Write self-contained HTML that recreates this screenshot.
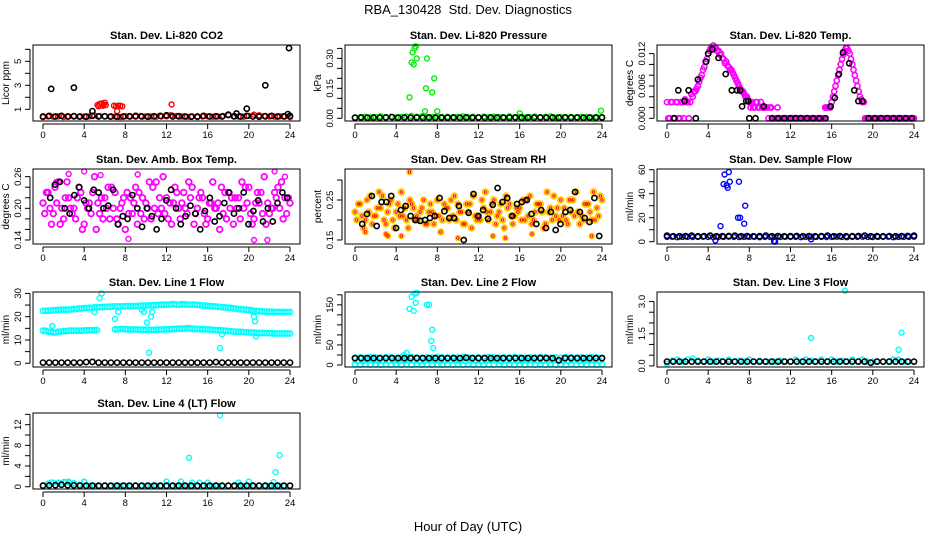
<!DOCTYPE html>
<html><head><meta charset="utf-8"><style>
html,body{margin:0;padding:0;background:#fff;}
svg{display:block;font-family:"Liberation Sans",sans-serif;}
</style></head><body>
<svg id="chart" width="936" height="540" viewBox="0 0 936 540" xmlns="http://www.w3.org/2000/svg">
<text x="468" y="14" text-anchor="middle" font-size="13">RBA_130428&#160; Std. Dev. Diagnostics</text>
<text x="468" y="531" text-anchor="middle" font-size="13">Hour of Day (UTC)</text>
</svg>
<script>
// ---- shared x ticks ----
const xTicks = [0,4,8,12,16,20,24];

// ---- P1 CO2 ----
const co2Ticks = [1,2,3,4,5,6];
const co2Labels = ["1","","3","","5",""];
const co2RedBase = [0.35,0.4,0.38,0.42,0.36,0.4,0.45,0.38,0.4,0.42,0.5,0.45,0.42,0.38,0.4,0.36,0.42,0.4,0.38,0.45,0.42,0.4,0.38,0.4,0.42,0.5,0.45,0.4,0.38,0.4,0.36,0.4,0.42,0.38,0.4,0.45,0.5,0.42,0.4,0.38,0.45,0.55,0.5,0.45,0.4,0.38,0.42,0.4,0.35];
const co2RedHours = [5.3,5.5,5.7,5.9,6.1,5.4,5.8,6.0,6.9,7.1,7.3,7.5,7.7,7.2,12.5,12.4];
const co2RedVals = [1.35,1.45,1.5,1.4,1.35,1.25,1.3,1.55,1.3,1.25,1.3,1.3,1.25,0.85,1.4,0.5];
const co2BlackBase = [0.4,0.45,0.4,0.45,0.4,0.42,0.4,0.38,0.45,0.4,0.42,0.4,0.38,0.4,0.42,0.45,0.4,0.38,0.42,0.45,0.5,0.4,0.42,0.4,0.38,0.4,0.45,0.4,0.42,0.4,0.55,0.42,0.4,0.45,0.4,0.38,0.42,0.45,0.4,0.42,0.45];
const co2BlackHours = [0.8,3.0,4.8,19.8,21.6,23.9,23.8,18.8];
const co2BlackVals = [2.7,2.8,0.85,1.05,3.0,6.1,0.6,0.65];

// ---- P2 Pressure ----
const presTicks = [0,0.05,0.1,0.15,0.2,0.25,0.3,0.35];
const presLabels = ["0.00","","","0.15","","","0.30",""];
const presGreenBase = [0.004,0.006,0.008,0.005,0.007,0.01,0.006,0.008,0.005,0.007,0.009,0.012,0.008,0.01,0.006,0.007,0.009,0.005,0.008,0.006,0.007,0.01,0.006,0.008,0.005,0.009,0.006,0.008,0.007,0.005,0.01,0.006,0.008,0.005,0.007,0.009,0.006,0.008,0.01,0.005,0.007,0.006,0.008,0.005,0.007,0.006,0.005,0.007,0.006];
const presGreenHours = [5.3,5.5,5.6,5.7,5.8,5.9,6.0,7.0,6.9,7.5,7.7,6.8,8.0,16.0,23.9];
const presGreenVals = [0.105,0.28,0.33,0.27,0.35,0.36,0.3,0.3,0.15,0.13,0.2,0.035,0.035,0.025,0.038];
const presBlackBase = [0.003,0.004,0.003,0.004,0.003,0.004,0.006,0.003,0.004,0.003,0.004,0.003,0.004,0.003,0.004,0.003,0.004,0.003,0.004,0.003,0.004,0.003,0.004,0.003,0.004,0.003,0.004,0.003,0.004,0.003,0.004,0.003,0.004,0.003,0.004,0.003,0.004,0.003,0.004,0.003,0.004];

// ---- P3 Temp ----
const tempTicks = [0,0.002,0.004,0.006,0.008,0.01,0.012];
const tempLabels = ["0.000","","","0.006","","","0.012"];
const tempMag1 = [0.003,0,0.003,0,0.003,0,0.003,0.0035,0.003,0.003,0.004,
 0.005,0.006,0.0075,0.009,0.0105,0.012,0.013,0.0135,
 0.013,0.0125,0.012,0.011,0.0105,0.0095,0.009,0.008,0.007,0.006,0.005,0.0045,0.004,0.003,
 0.003,0.002,0.003,0.002,0.002,0.002,0.002,0.002,
 0,0,0.002,0,0,0,0,0,0,0,0,0,0,0,0,0,0,0,0,0,0,0.002,
 0.002,0.003,0.005,0.007,0.009,0.011,0.0125,
 0.013,0.012,0.01,0.008,0.006,0.004,0.003,
 0,0,0,0,0,0,0,0,0,0,0,0,0,0,0,0,0,0,0,0];
const tempMag2 = [0,0.003,0,0.003,0,0.003,0,0.003,0,0.0045,0.005,
 0.0055,0.0068,0.008,0.0095,0.011,0.0125,0.0128,0.013,
 0.0125,0.0118,0.0112,0.0102,0.0098,0.009,0.0085,0.0075,0.0065,0.0055,0.005,0.004,0.0035,0.002,
 0.002,0.003,0.002,0.003,0.002,0.002,0,0.002,
 0,0,0,0,0,0,0,0,0,0,0,0,0,0,0,0,0,0,0,0,0.002,0.002,
 0.002,0.004,0.006,0.008,0.01,0.0118,0.013,
 0.0125,0.011,0.009,0.007,0.005,0.0035,0.003,
 0,0,0,0,0,0,0,0,0,0,0,0,0,0,0,0,0,0,0,0];
const tempBlackHours = [0.7,1.1,1.7,2.1,2.8,3.0,3.8,4.0,4.4,5.0,5.7,6.3,6.8,7.1,7.3,7.7,7.9,8.0,8.6,9.4,10.2,10.8,11.4,12.0,12.5,13.0,13.6,14.2,14.8,15.4,15.9,16.3,16.7,17.1,17.7,18.2,18.6,19.0,19.6,20.2,20.8,21.4,22.0,22.6,23.2,23.8];
const tempBlackVals = [0,0.0052,0.0032,0.0052,0,0.0072,0.0105,0.012,0.0128,0.0112,0.0082,0.0052,0.0052,0.0052,0.0022,0.0032,0.0032,0,0,0.0022,0,0,0,0,0,0,0,0,0,0,0.0022,0.0038,0.0082,0.0122,0.0102,0.0052,0.0032,0.0032,0,0,0,0,0,0,0,0];

// ---- P4 Amb box temp ----
const ambTicks = [0.14,0.16,0.18,0.2,0.22,0.24,0.26];
const ambLabels = ["0.14","","","0.20","","","0.26"];
const ambMag1 = [0.21,0.23,0.19,0.25,0.18,0.22,0.2,0.24,0.17,0.21,0.26,0.19,0.22,0.18,0.23,0.2,0.16,0.22,0.24,0.19,0.21,0.18,0.25,0.2,0.22,0.17,0.23,0.21,0.19,0.24,0.2,0.22,0.18,0.25,0.21,0.19,0.23,0.17,0.22,0.2,0.24,0.18,0.21,0.26,0.19,0.23,0.2,0.22,0.21];
const ambMag2 = [0.19,0.2,0.24,0.17,0.22,0.2,0.18,0.23,0.21,0.19,0.16,0.22,0.2,0.24,0.18,0.21,0.23,0.19,0.17,0.22,0.2,0.24,0.19,0.26,0.18,0.21,0.2,0.23,0.25,0.17,0.22,0.19,0.21,0.2,0.16,0.23,0.2,0.22,0.18,0.24,0.19,0.21,0.23,0.17,0.2,0.22,0.25,0.19,0.24];
const ambMag3 = [0.23,0.17,0.21,0.2,0.25,0.19,0.22,0.16,0.2,0.23,0.21,0.18,0.24,0.2,0.17,0.22,0.19,0.21,0.23,0.18,0.25,0.2,0.22,0.19,0.21,0.24,0.18,0.2,0.22,0.19,0.23,0.17,0.21,0.2,0.24,0.18,0.22,0.2,0.25,0.21,0.17,0.23,0.19,0.21,0.2,0.24,0.18,0.22,0.2];
const ambMagHours = [4.0,5.6,9.2,2.5,20.5,21.8,23.5,8.3,1.3,22.5];
const ambMagVals = [0.27,0.263,0.264,0.265,0.14,0.14,0.26,0.142,0.25,0.27];
const ambBlack = [0.22,0.245,0.25,0.2,0.19,0.225,0.24,0.215,0.2,0.235,0.23,0.2,0.205,0.235,0.17,0.185,0.18,0.225,0.2,0.165,0.2,0.185,0.16,0.18,0.215,0.235,0.2,0.17,0.185,0.205,0.19,0.16,0.195,0.22,0.175,0.185,0.21,0.23,0.19,0.2,0.23,0.17,0.195,0.215,0.175,0.2,0.175,0.21,0.23,0.22];

// ---- P5 Gas stream RH ----
const rhTicks = [0.15,0.2,0.25,0.3];
const rhLabels = ["0.15","","0.25",""];
const rh1 = [0.22,0.24,0.2,0.26,0.21,0.23,0.19,0.25,0.22,0.27,0.2,0.24,0.21,0.23,0.19,0.22,0.25,0.2,0.23,0.21,0.24,0.19,0.22,0.26,0.21,0.23,0.2,0.25,0.22,0.18,0.24,0.21,0.23,0.2,0.26,0.22,0.24,0.19,0.23,0.21,0.25,0.2,0.22,0.27,0.21,0.24,0.2,0.23,0.25];
const rh2 = [0.2,0.21,0.25,0.19,0.23,0.26,0.22,0.2,0.24,0.21,0.18,0.23,0.2,0.25,0.22,0.19,0.21,0.24,0.2,0.26,0.22,0.19,0.24,0.21,0.2,0.27,0.22,0.19,0.24,0.26,0.21,0.23,0.2,0.25,0.19,0.24,0.22,0.27,0.2,0.23,0.21,0.19,0.25,0.22,0.2,0.24,0.27,0.21,0.22];
const rh3 = [0.24,0.18,0.22,0.21,0.27,0.2,0.24,0.18,0.21,0.23,0.25,0.2,0.22,0.19,0.24,0.21,0.17,0.23,0.25,0.2,0.22,0.24,0.18,0.2,0.25,0.22,0.24,0.21,0.2,0.23,0.19,0.22,0.25,0.21,0.2,0.24,0.18,0.22,0.26,0.2,0.23,0.25,0.21,0.19,0.24,0.22,0.2,0.26,0.24];
const rhOutHours = [5.3,3.0,3.2,4.5,10.0,14.6,13.4,17.2,23.0,1.0];
const rhOutVals = [0.32,0.165,0.16,0.16,0.155,0.155,0.16,0.165,0.16,0.17];
const rhBlack = [0.19,0.215,0.26,0.185,0.245,0.245,0.26,0.18,0.225,0.235,0.21,0.2,0.198,0.2,0.205,0.21,0.255,0.222,0.205,0.205,0.235,0.15,0.218,0.265,0.21,0.225,0.203,0.238,0.28,0.245,0.255,0.21,0.24,0.245,0.25,0.215,0.19,0.225,0.18,0.22,0.175,0.19,0.22,0.225,0.27,0.22,0.205,0.195,0.255,0.16];

// ---- P6 Sample flow ----
const sfTicks = [0,10,20,30,40,50,60];
const sfLabels = ["0","","20","","40","","60"];
const sfBlueBase = [4,4.2,3.8,4,4.1,3.9,4,4.2,4,3.8,4.1,4,4.2,4,3.9,4.1,4,4.2,3.8,4,4.1,4,3.9,4.2,4,4.1,3.8,4,4.2,4,4.1,3.9,4,4.2,4,3.8,4.1,4,4.2,4,3.9,4.1,4,4.2,3.8,4,4.1,4,4.2];
const sfBlueHours = [5.2,5.5,5.6,5.8,5.9,6.0,6.1,7.0,7.1,6.9,7.5,7.6,4.7,10.4,10.5,14.0];
const sfBlueVals = [13,48,56,47,45,58,50,50,20,20,15,30,1,0.5,0,2];
const sfBlack = [5,4.5,4.5,4.6,5,4.5,4.6,5,4.5,4.6,4.8,5,4.5,4.6,4.5,4.6,5,4.5,4.6,4.5,4.6,4.8,4.5,4.6,4.5,4.6,5,4.5,4.6,4.5,4.6,4.8,5,4.5,4.6,4.5,4.6,4.5,4.6,4.8,5];

// ---- P7 Line 1 flow ----
const l1Ticks = [0,5,10,15,20,25,30];
const l1Labels = ["0","","10","","20","","30"];
const l1Upper = [22.5,22.6,22.8,22.9,23,23.1,23.3,23.5,23.7,23.8,24,24.1,24.2,24.3,24.4,24.4,24.5,24.5,24.6,24.7,24.8,24.9,25,25.1,25.2,25.3,25.2,25.3,25.2,25.2,25,24.8,24.6,24.4,24.2,24,23.8,23.5,23.2,23,22.8,22.5,22.3,22.2,22.1,22,22,22,22];
const l1Lower = [14,13.5,13.2,13.6,13.8,14,14,14,14.1,14.2,14.2,null,null,null,14.6,14.7,14.6,14.5,14.5,14.4,14.4,14.3,14.4,14.5,14.6,14.7,14.8,14.9,15,14.8,14.7,14.6,14.5,14.3,14.2,14,13.8,13.6,13.5,13.4,13.2,13.1,13,13,12.9,12.8,12.8,12.8,12.8];
const l1OutHours = [5.5,5.7,5.0,7.0,9.6,9.8,10.1,10.5,10.6,10.3,0.9,7.3,17.2,17.4,20.5,20.6,20.4,20.7];
const l1OutVals = [28,30,22,19,23,22,17.5,20,22,4.5,16,22,6.5,12.5,20,18,22,11.5];
const l1Black = [0.3,0.3,0.3,0.3,0.3,0.3,0.3,0.5,0.6,0.3,0.3,0.3,0.3,0.3,0.3,0.3,0.3,0.3,0.3,0.3,0.3,0.3,0.3,0.3,0.3,0.3,0.3,0.3,0.5,0.3,0.3,0.3,0.3,0.3,0.3,0.3,0.3,0.3,0.3,0.3,0.3];

// ---- P8 Line 2 flow ----
const l2Ticks = [0,25,50,75,100,125,150,175];
const l2Labels = ["0","","50","","","","150",""];
const l2CyanHigh = [18,19,18,20,19,18,19,20,18,19,18,20,19,18,19,18,20,19,18,19,18,20,19,18,19,18,20,19,18,19,18,20,19,18,19,18,20,19,18,19,18,20,19,18,19,18,20,19,18];
const l2CyanMid = [10,9,11,10,9,10,11,10,9,10,11,10,9,10,11,10,9,10,11,10,9,10,11,10,9,10,11,10,9,10,11,10,9,10,11,10,9,10,11,10,9,10,11,10,9,10,11,10,9];
const l2CyanLow = [2,1,2,1,2,1,2,1,2,1,2,1,2,1,2,1,2,1,2,1,2,1,2,1,2,1,2,1,2,1,2,1,2,1,2,1,2,1,2,1,2,1,2,1,2,1,2,1,2];
const l2OutHours = [5.0,5.3,5.5,5.7,5.8,5.9,6.0,7.0,7.2,7.5,7.6,7.4,4.8];
const l2OutVals = [30,140,170,135,178,155,180,150,150,88,42,60,25];
const l2Black = [17,17,17,17,17,17,17,17,17,17,17,17,17,17,17,17,17,17,18,17,17,17,17,17,17,17,17,17,17,17,17,17,17,12,17,17,17,17,17,17,17];

// ---- P9 Line 3 flow ----
const l3Ticks = [0,0.5,1,1.5,2,2.5,3];
const l3Labels = ["0.0","","","1.5","","","3.0"];
const l3Cyan = [0.1,0.25,0.3,0.2,0.3,0.35,0.25,0.2,0.3,0.2,0.25,0.2,0.3,0.2,0.25,0.2,0.3,0.2,0.25,0.2,0.2,0.2,0.25,0.2,0.2,0.3,0.2,0.3,0.25,0.2,0.3,0.2,0.3,0.2,0.25,0.2,0.3,0.2,0.3,0.2,0.2,0.2,0.2,0.2,0.3,0.3,0.2,0.2,0.2];
const l3OutHours = [14.0,17.3,22.5,22.8];
const l3OutVals = [1.3,3.5,0.75,1.55];
const l3Black = [0.2,0.2,0.2,0.2,0.2,0.2,0.2,0.2,0.2,0.2,0.2,0.2,0.2,0.2,0.2,0.2,0.2,0.2,0.2,0.2,0.2,0.2,0.2,0.2,0.2,0.2,0.2,0.2,0.2,0.2,0.2,0.2,0.2,0.15,0.2,0.2,0.2,0.2,0.2,0.2,0.2];

// ---- P10 Line 4 flow ----
const l4Ticks = [0,2,4,6,8,10,12,14];
const l4Labels = ["0","","4","","8","","12",""];
const l4Cyan = [0.3,0.6,0.8,0.7,0.9,0.8,0.6,0.4,0.9,0.2,0.2,0.1,0.2,0.1,0.2,0.1,0.2,0.1,0.2,0.1,0.2,0.1,0.2,0.1,0.2,0.1,0.2,0.1,0.2,0.1,0.2,0.1,0.2,0.1,0.2,0.1,0.2,0.1,0.2,0.1,0.2,0.1,0.2,0.1,0.2,0.1,0.2,0.1,0.2];
const l4OutHours = [14.2,17.2,22.6,23.0,0.8,1.5,2.2,2.5,3.0,4.0,12.0,13.4,14.5,15.2,16.0,19.0,20.0,22.4];
const l4OutVals = [5.6,13.8,2.8,6.1,0.8,0.8,0.9,1.0,0.7,1.0,1.0,1.0,0.8,0.8,0.8,0.8,1.0,0.9];
const l4Black = [0.2,0.25,0.3,0.4,0.3,0.25,0.2,0.2,0.2,0.2,0.2,0.2,0.2,0.2,0.2,0.2,0.2,0.2,0.2,0.2,0.2,0.2,0.2,0.2,0.2,0.2,0.2,0.2,0.2,0.2,0.2,0.2,0.2,0.2,0.2,0.2,0.2,0.2,0.2,0.2,0.2];

// ---------------- rendering ----------------
const NS = "http://www.w3.org/2000/svg";
const svg = document.getElementById("chart");
function mk(tag, attrs, parent){
  const e = document.createElementNS(NS, tag);
  for (const k in attrs) e.setAttribute(k, attrs[k]);
  (parent||svg).appendChild(e);
  return e;
}
const cols = [{l:33,r:300},{l:345,r:612},{l:657,r:924}];
const rows = [{t:45,b:121},{t:169,b:244},{t:292,b:367},{t:413,b:489}];

function reg(step, vals, color, r, sw, start){ return {step:step, start:start||0, v:vals, color:color, r:r, sw:sw}; }
function pts(hours, vals, color, r, sw){ return {h:hours, v:vals, color:color, r:r, sw:sw}; }
const K="#000", R="#ff0000", G="#00ee00", M="#ff00ff", B="#0000ff", C="#00ffff", Y="#ffcc00";

const panels = [
 {name:"co2", title:"Stan. Dev. Li-820 CO2", ylab:"Licor ppm", c:0, rw:0, y0:0.025, y1:6.36, ticks:co2Ticks, labels:co2Labels,
  series:[reg(0.5,co2RedBase,R,2.5,1.4), pts(co2RedHours,co2RedVals,R,2.5,1.4), reg(0.6,co2BlackBase,K,2.6,1.6), pts(co2BlackHours,co2BlackVals,K,2.6,1.6)]},
 {name:"pressure", title:"Stan. Dev. Li-820 Pressure", ylab:"kPa", c:1, rw:0, y0:-0.0135, y1:0.367, ticks:presTicks, labels:presLabels,
  series:[reg(0.5,presGreenBase,G,2.5,1.4), pts(presGreenHours,presGreenVals,G,2.5,1.4), reg(0.6,presBlackBase,K,2.6,1.6)]},
 {name:"temp", title:"Stan. Dev. Li-820 Temp.", ylab:"degrees C", c:2, rw:0, y0:-0.0005, y1:0.0136, ticks:tempTicks, labels:tempLabels,
  series:[reg(0.25,tempMag1,M,2.6,1.6), reg(0.25,tempMag2,M,2.6,1.6,0.125), pts(tempBlackHours,tempBlackVals,K,2.6,1.6)]},
 {name:"amb-box-temp", title:"Stan. Dev. Amb. Box Temp.", ylab:"degrees C", c:0, rw:1, y0:0.1324, y1:0.2745, ticks:ambTicks, labels:ambLabels,
  series:[reg(0.5,ambMag1,M,2.8,1.8), reg(0.5,ambMag2,M,2.8,1.8,0.17), reg(0.5,ambMag3,M,2.8,1.8,0.33), pts(ambMagHours,ambMagVals,M,2.5,1.4), reg(0.47,ambBlack,K,2.6,1.6,0.7)]},
 {name:"gas-stream-rh", title:"Stan. Dev. Gas Stream RH", ylab:"percent", c:1, rw:1, y0:0.14, y1:0.3275, ticks:rhTicks, labels:rhLabels,
  series:[reg(0.5,rh1,Y,2.8,1.8), reg(0.5,rh2,Y,2.8,1.8,0.17), reg(0.5,rh3,Y,2.8,1.8,0.33), pts(rhOutHours,rhOutVals,Y,2.5,1.6),
          reg(0.5,rh1,R,1.2,1), reg(0.5,rh2,R,1.2,1,0.17), reg(0.5,rh3,R,1.2,1,0.33), pts(rhOutHours,rhOutVals,R,1.2,1), reg(0.47,rhBlack,K,2.6,1.6,0.7)]},
 {name:"sample-flow", title:"Stan. Dev. Sample Flow", ylab:"ml/min", c:2, rw:1, y0:-1.9, y1:60.6, ticks:sfTicks, labels:sfLabels,
  series:[reg(0.5,sfBlueBase,B,2.5,1.4), pts(sfBlueHours,sfBlueVals,B,2.5,1.4), reg(0.6,sfBlack,K,2.6,1.6)]},
 {name:"line1-flow", title:"Stan. Dev. Line 1 Flow", ylab:"ml/min", c:0, rw:2, y0:-1.6, y1:30.6, ticks:l1Ticks, labels:l1Labels,
  series:[reg(0.5,l1Upper,C,2.6,1.6), reg(0.5,l1Upper,C,2.6,1.6,0.25), reg(0.5,l1Lower,C,2.6,1.6), reg(0.5,l1Lower,C,2.6,1.6,0.25), pts(l1OutHours,l1OutVals,C,2.5,1.4), reg(0.6,l1Black,K,2.6,1.6)]},
 {name:"line2-flow", title:"Stan. Dev. Line 2 Flow", ylab:"ml/min", c:1, rw:2, y0:-5, y1:182, ticks:l2Ticks, labels:l2Labels,
  series:[reg(0.5,l2CyanHigh,C,2.6,1.6), reg(0.5,l2CyanMid,C,2.6,1.6,0.25), reg(0.5,l2CyanLow,C,2.6,1.6), pts(l2OutHours,l2OutVals,C,2.5,1.4), reg(0.6,l2Black,K,2.6,1.6)]},
 {name:"line3-flow", title:"Stan. Dev. Line 3 Flow", ylab:"ml/min", c:2, rw:2, y0:-0.05, y1:3.44, ticks:l3Ticks, labels:l3Labels,
  series:[reg(0.5,l3Cyan,C,2.5,1.4), pts(l3OutHours,l3OutVals,C,2.5,1.4), reg(0.6,l3Black,K,2.6,1.6)]},
 {name:"line4-flow", title:"Stan. Dev. Line 4 (LT) Flow", ylab:"ml/min", c:0, rw:3, y0:-0.44, y1:14.26, ticks:l4Ticks, labels:l4Labels,
  series:[reg(0.5,l4Cyan,C,2.5,1.4), pts(l4OutHours,l4OutVals,C,2.5,1.4), reg(0.6,l4Black,K,2.6,1.6)]}
];

panels.forEach(function(p){
  const col = cols[p.c], row = rows[p.rw];
  const xs = function(h){ return col.l + 10 + h/24*(col.r - col.l - 20); };
  const ys = function(v){ return row.b - (v - p.y0)/(p.y1 - p.y0)*(row.b - row.t); };
  const g = mk("g", {});
  
  
  const title = mk("text", {x:(col.l+col.r)/2, y:row.t-6, "text-anchor":"middle", "font-size":"11", "font-weight":"bold"}, g);
  title.textContent = p.title;
  
  
  const pg = mk("g", {fill:"none"}, g);
  
  
  p.series.forEach(function(s){
    s.v.forEach(function(v, i){
      if (v === null) return;
      const h = s.h ? s.h[i] : s.start + i*s.step;
      if (h > 24.05) return;
      const c = mk("circle", {cx:xs(h).toFixed(1), cy:ys(v).toFixed(1), r:s.r, stroke:s.color, "stroke-width":s.sw}, pg);
      
      
    });
  });
  const box = mk("rect", {x:col.l, y:row.t, width:col.r-col.l, height:row.b-row.t, fill:"none", stroke:"#000", "stroke-width":1}, g);
  
  
  const xa = mk("g", {stroke:"#000", "stroke-width":1}, g);
  
  
  mk("line", {x1:xs(xTicks[0]), x2:xs(xTicks[xTicks.length-1]), y1:row.b+3, y2:row.b+3}, xa);
  xTicks.forEach(function(t){
    const x = xs(t);
    mk("line", {x1:x, x2:x, y1:row.b+3, y2:row.b+8}, xa);
    const tl = mk("text", {x:x, y:row.b+17, "text-anchor":"middle", "font-size":"9.5", stroke:"none", fill:"#000"}, g);
    tl.textContent = String(t);
    
    
  });
  const ya = mk("g", {stroke:"#000", "stroke-width":1}, g);
  
  
  const ax = col.l - 3;
  mk("line", {x1:ax, x2:ax, y1:ys(p.ticks[0]), y2:ys(p.ticks[p.ticks.length-1])}, ya);
  p.ticks.forEach(function(t, i){
    const y = ys(t);
    mk("line", {x1:ax-5, x2:ax, y1:y, y2:y}, ya);
    if (p.labels[i]) {
      const tl = mk("text", {x:0, y:0, "text-anchor":"middle", "font-size":"9.5", fill:"#000", transform:"translate(" + (ax-9) + "," + y + ") rotate(-90)"}, g);
      tl.textContent = p.labels[i];
      
      
    }
  });
  const yl = mk("text", {x:0, y:0, "text-anchor":"middle", "font-size":"10", fill:"#000", transform:"translate(" + (ax-21) + "," + ((row.t+row.b)/2) + ") rotate(-90)"}, g);
  yl.textContent = p.ylab;
  
  
});
</script>
</body></html>
